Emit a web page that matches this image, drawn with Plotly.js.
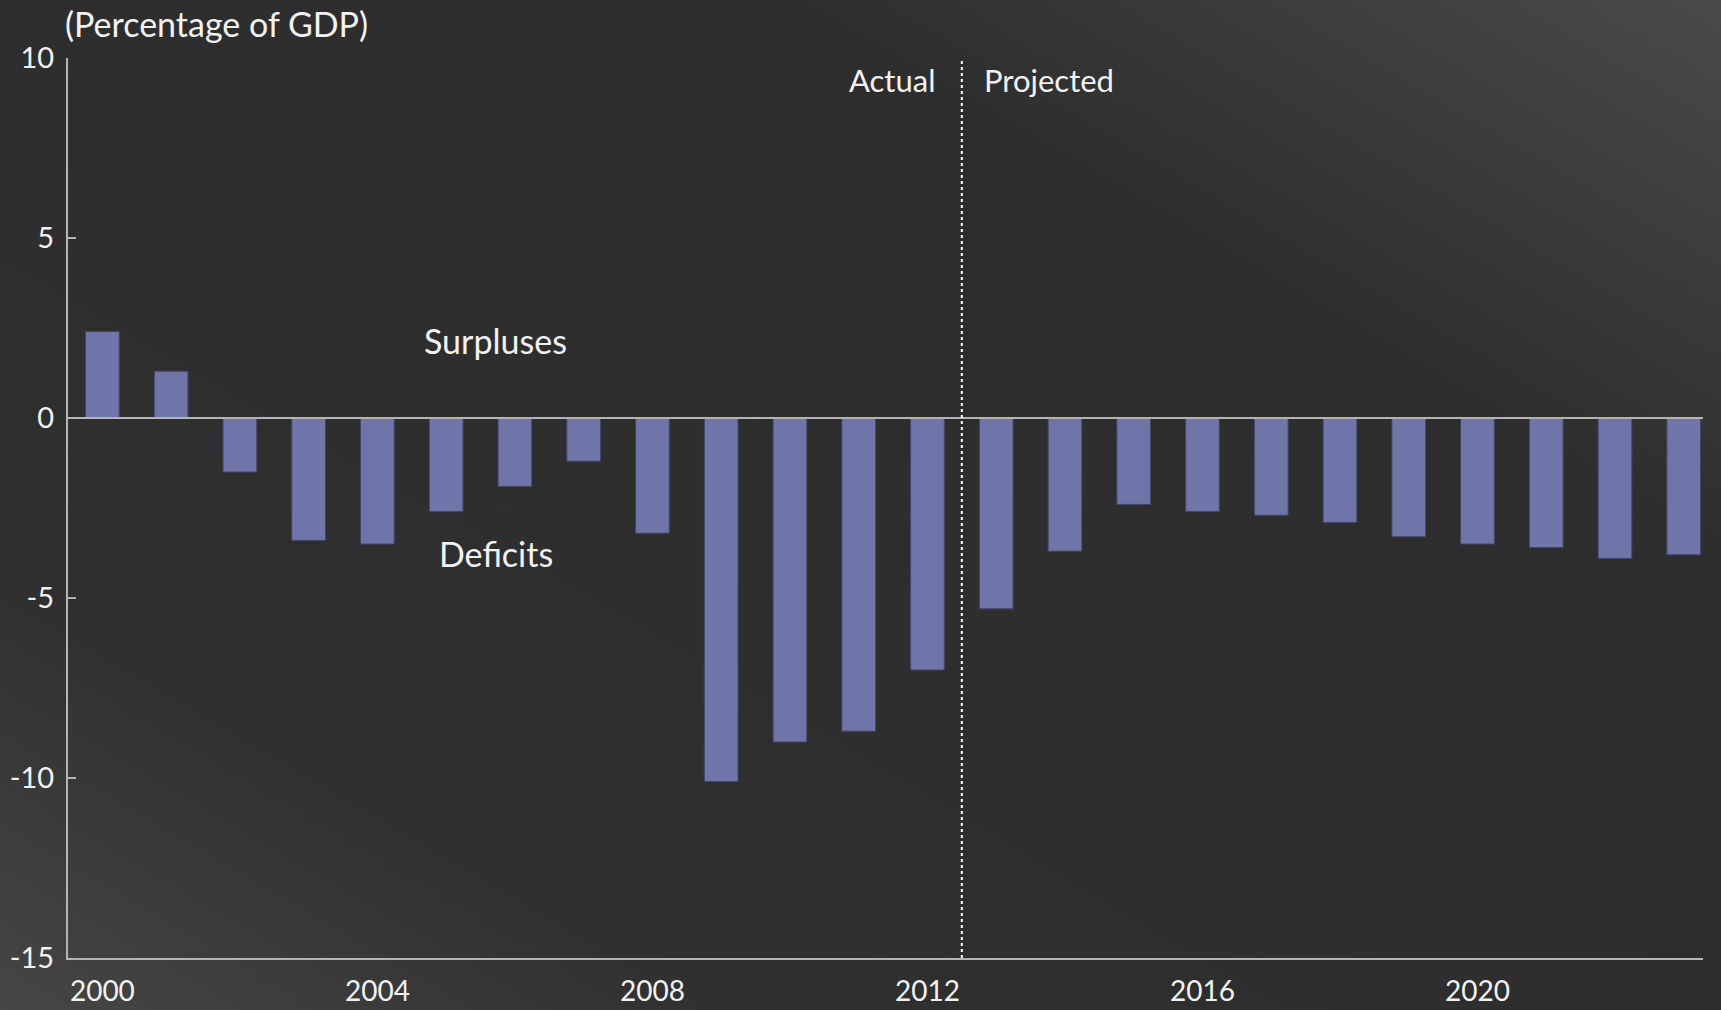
<!DOCTYPE html>
<html>
<head>
<meta charset="utf-8">
<script src="https://cdn.plot.ly/plotly-3.0.1.min.js"></script>
<style>
  html, body { margin: 0; padding: 0; width: 1721px; height: 1010px; overflow: hidden; }
  body { background: linear-gradient(to top right, #464646 0%, #2f2f2f 22%, #2d2d2d 72%, #4a4a4a 100%); }
  #chart { width: 1721px; height: 1010px; }
</style>
</head>
<body>
<div id="chart"></div>
<script>
const years = [2000,2001,2002,2003,2004,2005,2006,2007,2008,2009,2010,2011,2012,2013,2014,2015,2016,2017,2018,2019,2020,2021,2022,2023];
const balance = [2.4,1.3,-1.5,-3.4,-3.5,-2.6,-1.9,-1.2,-3.2,-10.1,-9.0,-8.7,-7.0,-5.3,-3.7,-2.4,-2.6,-2.7,-2.9,-3.3,-3.5,-3.6,-3.9,-3.8];
const lastActualYear = 2012;
const xTickYears = [2000,2004,2008,2012,2016,2020];
const yTicks = [-15,-10,-5,0,5,10];
const yTitle = "(Percentage of GDP)";
const labelSurplus = "Surpluses";
const labelDeficit = "Deficits";
const labelActual = "Actual";
const labelProjected = "Projected";

const FONT = "Lato, 'Open Sans', sans-serif";
const TXT = "#f2f2f2";
const AX = "#b4b4b4";
const split = lastActualYear + 0.5;

const trace = {
  type: "bar",
  x: years,
  y: balance,
  width: 0.49,
  marker: { color: "rgb(111,117,169)", line: { color: "rgb(66,70,105)", width: 1 } },
  hoverinfo: "x+y"
};

const layout = {
  width: 1721,
  height: 1010,
  margin: { l: 68, r: 18, t: 58, b: 52 },
  paper_bgcolor: "rgba(0,0,0,0)",
  plot_bgcolor: "rgba(0,0,0,0)",
  showlegend: false,
  font: { family: FONT, color: TXT, size: 29 },
  xaxis: {
    range: [1999.5, 2023.28],
    tickvals: xTickYears,
    ticktext: xTickYears.map(String),
    ticks: "",
    showgrid: false,
    zeroline: false,
    showline: true,
    linecolor: AX,
    linewidth: 2,
    ticklabelstandoff: 7,
    tickfont: { family: FONT, color: TXT, size: 28 },
    fixedrange: true
  },
  yaxis: {
    range: [-15, 10],
    tickvals: yTicks,
    ticktext: yTicks.map(String),
    ticks: "inside",
    ticklen: 8,
    tickwidth: 2,
    tickcolor: AX,
    showgrid: false,
    zeroline: false,
    showline: true,
    linecolor: AX,
    linewidth: 2,
    ticklabelstandoff: 6,
    tickfont: { family: FONT, color: TXT, size: 29 },
    fixedrange: true
  },
  shapes: [
    { type: "line", xref: "paper", yref: "y", x0: 0, x1: 1, y0: 0, y1: 0,
      line: { color: AX, width: 2 }, layer: "above" },
    { type: "line", xref: "x", yref: "paper", x0: split, x1: split, y0: 0, y1: 1,
      line: { color: "#ffffff", width: 2, dash: "dot" }, layer: "above" }
  ],
  annotations: [
    { xref: "paper", yref: "paper", x: 0, y: 1, xanchor: "left", yanchor: "bottom",
      xshift: -5, yshift: 12, showarrow: false, text: yTitle,
      font: { family: FONT, size: 34, color: TXT } },
    { xref: "x", yref: "y", x: 2005.72, y: 2.15, showarrow: false, text: labelSurplus,
      font: { family: FONT, size: 34, color: TXT } },
    { xref: "x", yref: "y", x: 2005.72, y: -3.75, showarrow: false, text: labelDeficit,
      font: { family: FONT, size: 34, color: TXT } },
    { xref: "x", yref: "y", x: split, y: 9.4, xanchor: "right", xshift: -24, showarrow: false,
      text: labelActual, font: { family: FONT, size: 31, color: TXT } },
    { xref: "x", yref: "y", x: split, y: 9.4, xanchor: "left", xshift: 20, showarrow: false,
      text: labelProjected, font: { family: FONT, size: 31, color: TXT } }
  ]
};

Plotly.newPlot("chart", [trace], layout, { displayModeBar: false, staticPlot: false });
</script>
</body>
</html>
